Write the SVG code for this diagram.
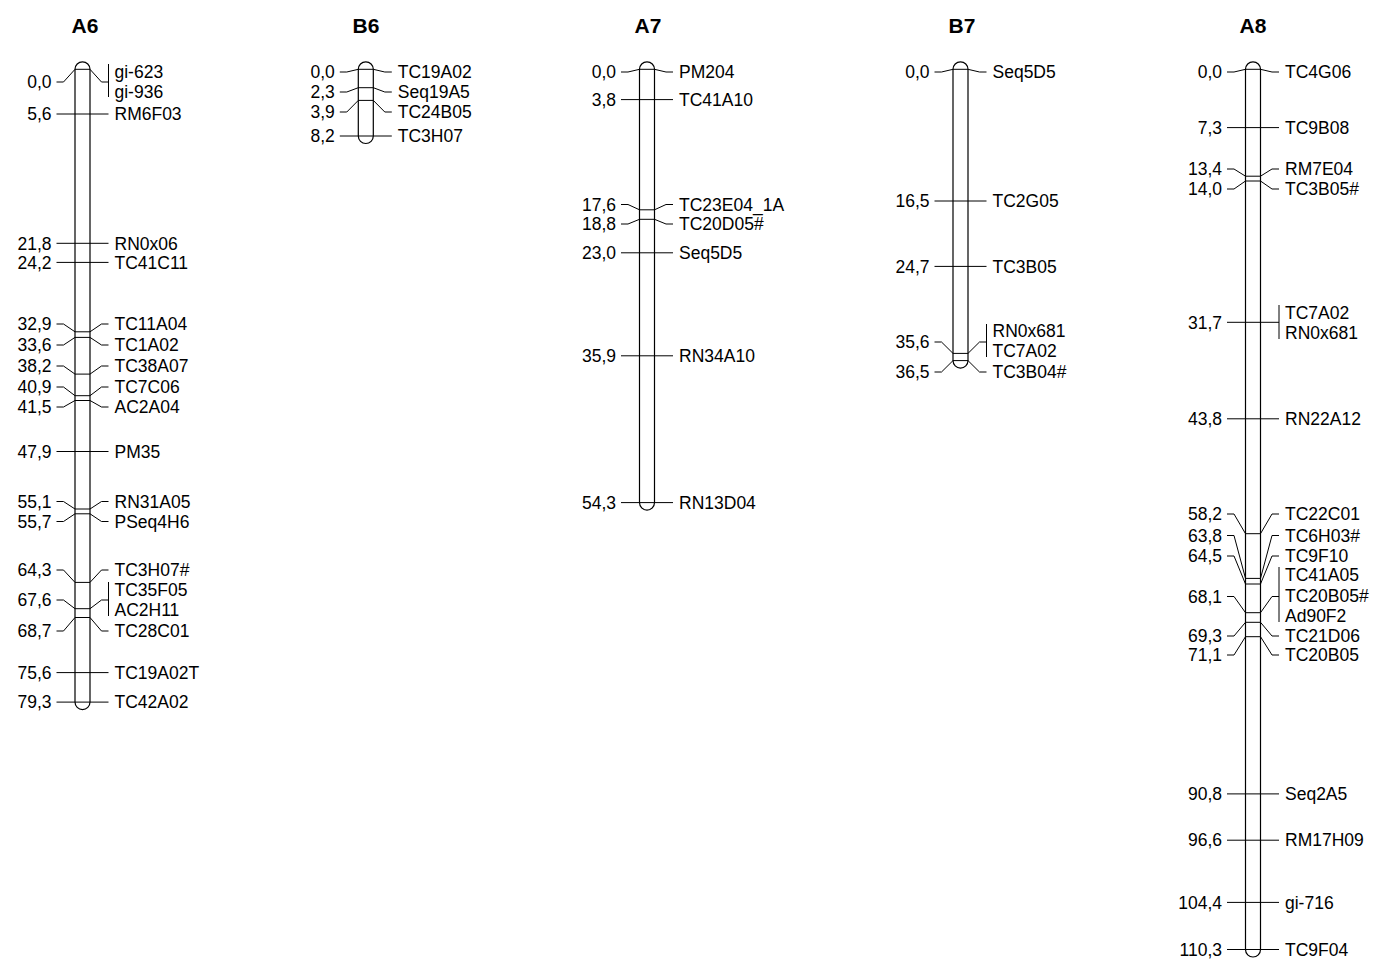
<svg xmlns="http://www.w3.org/2000/svg" width="1374" height="959" viewBox="0 0 1374 959">
<style>
.bar{fill:#fff;stroke:#000;stroke-width:1.2}
.tk{fill:none;stroke:#000;stroke-width:1}
text{font-family:"Liberation Sans",Arial,sans-serif;font-size:17.5px;fill:#000}
.n{text-anchor:end}
.h{font-weight:bold;font-size:21px;text-anchor:middle}
</style>
<rect width="1374" height="959" fill="#fff"/>

<g id="A6">
<text class="h" x="85" y="32.7">A6</text>
<path class="bar" d="M75,69.3 V702.1 A7.5,7.5 0 0 0 90,702.1 V69.3 A7.5,7.5 0 0 0 75,69.3 Z"/>
<g class="connectors">
<polyline class="tk" points="56.5,82 63.5,82 75,69.3 90,69.3 101.5,82 108.5,82"/>
<line class="tk" x1="108.5" y1="64" x2="108.5" y2="97"/>
<line class="tk" x1="56.5" y1="114" x2="108.5" y2="114"/>
<line class="tk" x1="56.5" y1="243.3" x2="108.5" y2="243.3"/>
<line class="tk" x1="56.5" y1="262.4" x2="108.5" y2="262.4"/>
<polyline class="tk" points="56.5,324 63.5,324 75,331.8 90,331.8 101.5,324 108.5,324"/>
<polyline class="tk" points="56.5,345 63.5,345 75,337.4 90,337.4 101.5,345 108.5,345"/>
<polyline class="tk" points="56.5,366 63.5,366 75,374.1 90,374.1 101.5,366 108.5,366"/>
<polyline class="tk" points="56.5,387 63.5,387 75,395.7 90,395.7 101.5,387 108.5,387"/>
<polyline class="tk" points="56.5,407 63.5,407 75,400.5 90,400.5 101.5,407 108.5,407"/>
<line class="tk" x1="56.5" y1="451.5" x2="108.5" y2="451.5"/>
<polyline class="tk" points="56.5,501.5 63.5,501.5 75,509 90,509 101.5,501.5 108.5,501.5"/>
<polyline class="tk" points="56.5,521.5 63.5,521.5 75,513.8 90,513.8 101.5,521.5 108.5,521.5"/>
<polyline class="tk" points="56.5,570 63.5,570 75,582.4 90,582.4 101.5,570 108.5,570"/>
<polyline class="tk" points="56.5,600 63.5,600 75,608.7 90,608.7 101.5,600 108.5,600"/>
<line class="tk" x1="108.5" y1="582" x2="108.5" y2="616"/>
<polyline class="tk" points="56.5,631 63.5,631 75,617.5 90,617.5 101.5,631 108.5,631"/>
<line class="tk" x1="56.5" y1="672.6" x2="108.5" y2="672.6"/>
<line class="tk" x1="56.5" y1="702.1" x2="108.5" y2="702.1"/>
</g>
<text class="n" x="51.5" y="88.2">0,0</text>
<text x="114.5" y="78.2">gi-623</text>
<text x="114.5" y="98.2">gi-936</text>
<text class="n" x="51.5" y="120.2">5,6</text><text x="114.5" y="120.2">RM6F03</text>
<text class="n" x="51.5" y="249.5">21,8</text><text x="114.5" y="249.5">RN0x06</text>
<text class="n" x="51.5" y="268.6">24,2</text><text x="114.5" y="268.6">TC41C11</text>
<text class="n" x="51.5" y="330.2">32,9</text><text x="114.5" y="330.2">TC11A04</text>
<text class="n" x="51.5" y="351.2">33,6</text><text x="114.5" y="351.2">TC1A02</text>
<text class="n" x="51.5" y="372.2">38,2</text><text x="114.5" y="372.2">TC38A07</text>
<text class="n" x="51.5" y="393.2">40,9</text><text x="114.5" y="393.2">TC7C06</text>
<text class="n" x="51.5" y="413.2">41,5</text><text x="114.5" y="413.2">AC2A04</text>
<text class="n" x="51.5" y="457.7">47,9</text><text x="114.5" y="457.7">PM35</text>
<text class="n" x="51.5" y="507.7">55,1</text><text x="114.5" y="507.7">RN31A05</text>
<text class="n" x="51.5" y="527.7">55,7</text><text x="114.5" y="527.7">PSeq4H6</text>
<text class="n" x="51.5" y="576.2">64,3</text><text x="114.5" y="576.2">TC3H07#</text>
<text class="n" x="51.5" y="606.2">67,6</text>
<text x="114.5" y="596.2">TC35F05</text>
<text x="114.5" y="616.2">AC2H11</text>
<text class="n" x="51.5" y="637.2">68,7</text><text x="114.5" y="637.2">TC28C01</text>
<text class="n" x="51.5" y="678.8">75,6</text><text x="114.5" y="678.8">TC19A02T</text>
<text class="n" x="51.5" y="708.3">79,3</text><text x="114.5" y="708.3">TC42A02</text>
</g>

<g id="B6">
<text class="h" x="366" y="32.7">B6</text>
<path class="bar" d="M358.3,69.3 V136 A7.5,7.5 0 0 0 373.3,136 V69.3 A7.5,7.5 0 0 0 358.3,69.3 Z"/>
<g class="connectors">
<polyline class="tk" points="339.8,72 346.8,72 358.3,69.3 373.3,69.3 384.8,72 391.8,72"/>
<polyline class="tk" points="339.8,92 346.8,92 358.3,87.7 373.3,87.7 384.8,92 391.8,92"/>
<polyline class="tk" points="339.8,112 346.8,112 358.3,100.4 373.3,100.4 384.8,112 391.8,112"/>
<line class="tk" x1="339.8" y1="136" x2="391.8" y2="136"/>
</g>
<text class="n" x="334.8" y="78.2">0,0</text><text x="397.8" y="78.2">TC19A02</text>
<text class="n" x="334.8" y="98.2">2,3</text><text x="397.8" y="98.2">Seq19A5</text>
<text class="n" x="334.8" y="118.2">3,9</text><text x="397.8" y="118.2">TC24B05</text>
<text class="n" x="334.8" y="142.2">8,2</text><text x="397.8" y="142.2">TC3H07</text>
</g>

<g id="A7">
<text class="h" x="648" y="32.7">A7</text>
<path class="bar" d="M639.5,69.3 V502.6 A7.5,7.5 0 0 0 654.5,502.6 V69.3 A7.5,7.5 0 0 0 639.5,69.3 Z"/>
<g class="connectors">
<polyline class="tk" points="621,72 628,72 639.5,69.3 654.5,69.3 666,72 673,72"/>
<line class="tk" x1="621" y1="99.6" x2="673" y2="99.6"/>
<polyline class="tk" points="621,204.5 628,204.5 639.5,209.8 654.5,209.8 666,204.5 673,204.5"/>
<polyline class="tk" points="621,224 628,224 639.5,219.3 654.5,219.3 666,224 673,224"/>
<line class="tk" x1="621" y1="252.8" x2="673" y2="252.8"/>
<line class="tk" x1="621" y1="355.8" x2="673" y2="355.8"/>
<line class="tk" x1="621" y1="502.6" x2="673" y2="502.6"/>
</g>
<text class="n" x="616" y="78.2">0,0</text><text x="679" y="78.2">PM204</text>
<text class="n" x="616" y="105.8">3,8</text><text x="679" y="105.8">TC41A10</text>
<text class="n" x="616" y="210.7">17,6</text><text x="679" y="210.7">TC23E04_1A</text>
<text class="n" x="616" y="230.2">18,8</text><text x="679" y="230.2">TC20D05#</text>
<text class="n" x="616" y="259">23,0</text><text x="679" y="259">Seq5D5</text>
<text class="n" x="616" y="362">35,9</text><text x="679" y="362">RN34A10</text>
<text class="n" x="616" y="508.8">54,3</text><text x="679" y="508.8">RN13D04</text>
</g>

<g id="B7">
<text class="h" x="962" y="32.7">B7</text>
<path class="bar" d="M953,69.3 V360.6 A7.5,7.5 0 0 0 968,360.6 V69.3 A7.5,7.5 0 0 0 953,69.3 Z"/>
<g class="connectors">
<polyline class="tk" points="934.5,72 941.5,72 953,69.3 968,69.3 979.5,72 986.5,72"/>
<line class="tk" x1="934.5" y1="201" x2="986.5" y2="201"/>
<line class="tk" x1="934.5" y1="266.4" x2="986.5" y2="266.4"/>
<polyline class="tk" points="934.5,342 941.5,342 953,353.4 968,353.4 979.5,342 986.5,342"/>
<line class="tk" x1="986.5" y1="324" x2="986.5" y2="357"/>
<polyline class="tk" points="934.5,372 941.5,372 953,360.6 968,360.6 979.5,372 986.5,372"/>
</g>
<text class="n" x="929.5" y="78.2">0,0</text><text x="992.5" y="78.2">Seq5D5</text>
<text class="n" x="929.5" y="207.2">16,5</text><text x="992.5" y="207.2">TC2G05</text>
<text class="n" x="929.5" y="272.6">24,7</text><text x="992.5" y="272.6">TC3B05</text>
<text class="n" x="929.5" y="348.2">35,6</text>
<text x="992.5" y="337.2">RN0x681</text>
<text x="992.5" y="357.2">TC7A02</text>
<text class="n" x="929.5" y="378.2">36,5</text><text x="992.5" y="378.2">TC3B04#</text>
</g>

<g id="A8">
<text class="h" x="1253" y="32.7">A8</text>
<path class="bar" d="M1245.5,69.3 V949.5 A7.5,7.5 0 0 0 1260.5,949.5 V69.3 A7.5,7.5 0 0 0 1245.5,69.3 Z"/>
<g class="connectors">
<polyline class="tk" points="1227,72 1234,72 1245.5,69.3 1260.5,69.3 1272,72 1279,72"/>
<line class="tk" x1="1227" y1="127.6" x2="1279" y2="127.6"/>
<polyline class="tk" points="1227,169 1234,169 1245.5,176.2 1260.5,176.2 1272,169 1279,169"/>
<polyline class="tk" points="1227,189 1234,189 1245.5,181 1260.5,181 1272,189 1279,189"/>
<line class="tk" x1="1227" y1="322.3" x2="1279" y2="322.3"/>
<line class="tk" x1="1279" y1="305" x2="1279" y2="339"/>
<line class="tk" x1="1227" y1="418.8" x2="1279" y2="418.8"/>
<polyline class="tk" points="1227,514 1234,514 1245.5,533.7 1260.5,533.7 1272,514 1279,514"/>
<polyline class="tk" points="1227,535.5 1234,535.5 1245.5,578.4 1260.5,578.4 1272,535.5 1279,535.5"/>
<polyline class="tk" points="1227,556 1234,556 1245.5,584 1260.5,584 1272,556 1279,556"/>
<polyline class="tk" points="1227,596.5 1234,596.5 1245.5,612.7 1260.5,612.7 1272,596.5 1279,596.5"/>
<line class="tk" x1="1279" y1="567" x2="1279" y2="622"/>
<polyline class="tk" points="1227,636 1234,636 1245.5,622.3 1260.5,622.3 1272,636 1279,636"/>
<polyline class="tk" points="1227,655 1234,655 1245.5,636.7 1260.5,636.7 1272,655 1279,655"/>
<line class="tk" x1="1227" y1="793.9" x2="1279" y2="793.9"/>
<line class="tk" x1="1227" y1="840.2" x2="1279" y2="840.2"/>
<line class="tk" x1="1227" y1="902.4" x2="1279" y2="902.4"/>
<line class="tk" x1="1227" y1="949.5" x2="1279" y2="949.5"/>
</g>
<text class="n" x="1222" y="78.2">0,0</text><text x="1285" y="78.2">TC4G06</text>
<text class="n" x="1222" y="133.8">7,3</text><text x="1285" y="133.8">TC9B08</text>
<text class="n" x="1222" y="175.2">13,4</text><text x="1285" y="175.2">RM7E04</text>
<text class="n" x="1222" y="195.2">14,0</text><text x="1285" y="195.2">TC3B05#</text>
<text class="n" x="1222" y="328.5">31,7</text>
<text x="1285" y="318.7">TC7A02</text>
<text x="1285" y="338.7">RN0x681</text>
<text class="n" x="1222" y="425">43,8</text><text x="1285" y="425">RN22A12</text>
<text class="n" x="1222" y="520.2">58,2</text><text x="1285" y="520.2">TC22C01</text>
<text class="n" x="1222" y="541.7">63,8</text><text x="1285" y="541.7">TC6H03#</text>
<text class="n" x="1222" y="562.2">64,5</text><text x="1285" y="562.2">TC9F10</text>
<text class="n" x="1222" y="602.7">68,1</text>
<text x="1285" y="581.2">TC41A05</text>
<text x="1285" y="602.2">TC20B05#</text>
<text x="1285" y="622.2">Ad90F2</text>
<text class="n" x="1222" y="642.2">69,3</text><text x="1285" y="642.2">TC21D06</text>
<text class="n" x="1222" y="661.2">71,1</text><text x="1285" y="661.2">TC20B05</text>
<text class="n" x="1222" y="800.1">90,8</text><text x="1285" y="800.1">Seq2A5</text>
<text class="n" x="1222" y="846.4">96,6</text><text x="1285" y="846.4">RM17H09</text>
<text class="n" x="1222" y="908.6">104,4</text><text x="1285" y="908.6">gi-716</text>
<text class="n" x="1222" y="955.7">110,3</text><text x="1285" y="955.7">TC9F04</text>
</g>
</svg>
